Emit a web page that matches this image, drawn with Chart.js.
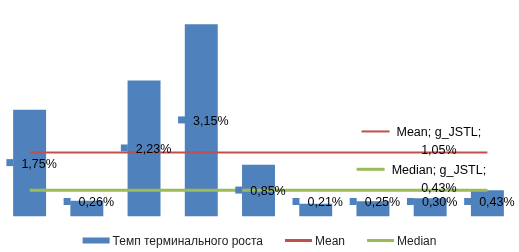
<!DOCTYPE html>
<html>
<head>
<meta charset="utf-8">
<script src="https://cdn.jsdelivr.net/npm/chart.js@4"></script>
<style>
html,body{margin:0;padding:0;background:#fff;}
#wrap{width:519px;height:252px;position:relative;}
</style>
</head>
<body>
<div id="wrap"><canvas id="c" width="519" height="252"></canvas></div>
<script>
const categories = ["1","2","3","4","5","6","7","8","9"];
const growthRates = [1.75, 0.26, 2.23, 3.15, 0.85, 0.21, 0.25, 0.30, 0.43];
const meanValues = [1.05, 1.05, 1.05, 1.05, 1.05, 1.05, 1.05, 1.05, 1.05];
const medianValues = [0.43, 0.43, 0.43, 0.43, 0.43, 0.43, 0.43, 0.43, 0.43];
const seriesNames = ["Темп терминального роста", "Mean", "Median"];
const lineLabelNames = ["Mean; g_JSTL;", "Median; g_JSTL;"];
const yMin = 0, yMax = 3.5;

const BLUE = "#4F81BD", RED = "#C0504D", GREEN = "#9BBB59";
const fmt = v => v.toFixed(2).replace(".", ",") + "%";

const labelsPlugin = {
  id: "labelsPlugin",
  afterDatasetsDraw(chart) {
    const ctx = chart.ctx;
    ctx.save();
    ctx.font = "12.5px 'Liberation Sans', Arial, sans-serif";
    ctx.textBaseline = "middle";
    ctx.fillStyle = "#000";
    // bar labels
    const barMeta = chart.getDatasetMeta(0);
    barMeta.data.forEach((bar, i) => {
      const txt = fmt(growthRates[i]);
      const tw = ctx.measureText(txt).width;
      const total = 15 + tw;
      const cx = bar.x + 2;
      let cy = (bar.y + bar.base) / 2;
      if (cy > 202) cy = 202;
      const left = cx - total / 2;
      ctx.fillStyle = BLUE;
      ctx.fillRect(left, cy - 4, 7, 7);
      ctx.fillStyle = "#000";
      ctx.textAlign = "left";
      ctx.fillText(txt, left + 15, cy + 1);
    });
    // line labels
    [1, 2].forEach((di, k) => {
      const meta = chart.getDatasetMeta(di);
      const pt = meta.data[meta.data.length - 1];
      const vals = di === 1 ? meanValues : medianValues;
      const name = lineLabelNames[k];
      const tw = ctx.measureText(name).width;
      const total = 28 + 7 + tw;
      const left = pt.x - 66 - total / 2;
      const y1 = pt.y - 21;
      ctx.strokeStyle = di === 1 ? RED : GREEN;
      ctx.lineWidth = di === 1 ? 2 : 3;
      ctx.beginPath();
      ctx.moveTo(left, y1);
      ctx.lineTo(left + 28, y1);
      ctx.stroke();
      ctx.fillStyle = "#000";
      ctx.textAlign = "left";
      ctx.fillText(name, left + 35, y1 + 1);
      ctx.textAlign = "center";
      ctx.fillText(fmt(vals[vals.length - 1]), left + 35 + tw / 2, pt.y - 2);
    });
    ctx.restore();
  }
};

const legendPlugin = {
  id: "customLegend",
  afterDraw(chart) {
    const ctx = chart.ctx;
    ctx.save();
    ctx.font = "12px 'Liberation Sans', Arial, sans-serif";
    ctx.textBaseline = "middle";
    const colors = [BLUE, RED, GREEN];
    const keyW = 27, gapKT = 3, gapItems = 22;
    const widths = seriesNames.map(n => keyW + gapKT + ctx.measureText(n).width);
    const totalW = widths.reduce((a, b) => a + b, 0) + gapItems * (seriesNames.length - 1);
    let x = chart.width / 2 - totalW / 2;
    const y = 240.5;
    seriesNames.forEach((n, i) => {
      if (i === 0) {
        ctx.fillStyle = colors[i];
        ctx.fillRect(x, y - 3, keyW, 6);
      } else {
        ctx.strokeStyle = colors[i];
        ctx.lineWidth = 3;
        ctx.beginPath();
        ctx.moveTo(x, y);
        ctx.lineTo(x + keyW, y);
        ctx.stroke();
      }
      ctx.fillStyle = "#222";
      ctx.textAlign = "left";
      ctx.fillText(n, x + keyW + gapKT, y + 1);
      x += widths[i] + gapItems;
    });
    ctx.restore();
  }
};

new Chart(document.getElementById("c"), {
  type: "bar",
  data: {
    labels: categories,
    datasets: [
      { type: "bar", label: seriesNames[0], data: growthRates, backgroundColor: BLUE,
        barPercentage: 0.576, categoryPercentage: 1.0, order: 3 },
      { type: "line", label: seriesNames[1], data: meanValues, borderColor: RED,
        borderWidth: 2, pointRadius: 0, fill: false, order: 1 },
      { type: "line", label: seriesNames[2], data: medianValues, borderColor: GREEN,
        borderWidth: 3, pointRadius: 0, fill: false, order: 2 }
    ]
  },
  options: {
    responsive: false,
    animation: false,
    devicePixelRatio: 1,
    layout: { padding: { left: 1, right: 3, top: 3, bottom: 35.5 } },
    plugins: { legend: { display: false }, tooltip: { enabled: false } },
    scales: {
      x: { display: false, offset: true, grid: { display: false } },
      y: { display: false, min: yMin, max: yMax, grid: { display: false } }
    }
  },
  plugins: [labelsPlugin, legendPlugin]
});
</script>
</body>
</html>
